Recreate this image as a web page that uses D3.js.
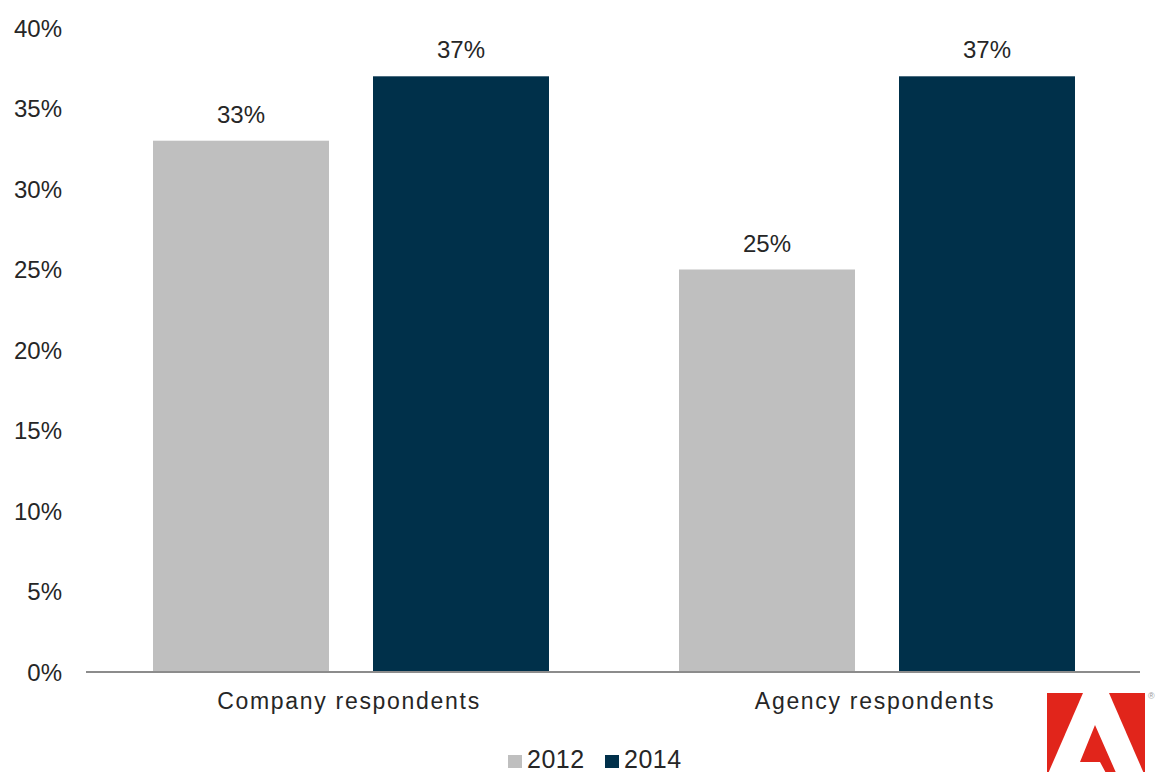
<!DOCTYPE html>
<html>
<head>
<meta charset="utf-8">
<script src="https://cdn.jsdelivr.net/npm/d3@7/dist/d3.min.js"></script>
<style>
  html, body { margin: 0; padding: 0; background: #fff; }
  svg { display: block; font-family: "Liberation Sans", Arial, sans-serif; }
</style>
</head>
<body>
<svg id="chart" width="1158" height="772"></svg>
<script>
// Share of respondents, by group and survey year
const categories = ["Company respondents", "Agency respondents"];
const seriesNames = ["2012", "2014"];
const values2012 = [33, 25];
const values2014 = [37, 37];
const yTicks = [0, 5, 10, 15, 20, 25, 30, 35, 40];
const seriesColors = ["#bfbfbf", "#00304a"];

const svg = d3.select("#chart");
const plotLeft = 88, plotRight = 1140, plotTop = 28, plotBottom = 672;

const x0 = d3.scaleBand().domain(categories).range([plotLeft, plotRight]).paddingInner(0).paddingOuter(0);
const x1 = d3.scaleBand().domain(seriesNames).range([0, x0.bandwidth()])
  .paddingInner(0.2).paddingOuter(0.2955);
const y = d3.scaleLinear().domain([0, 40]).range([plotBottom, plotTop]);
const color = d3.scaleOrdinal().domain(seriesNames).range(seriesColors);

const rows = categories.map((c, i) => ({
  category: c,
  items: [
    { series: "2012", value: values2012[i] },
    { series: "2014", value: values2014[i] }
  ]
}));

// Y axis labels (no axis line, no ticks)
const yAxis = d3.axisLeft(y).tickValues(yTicks).tickFormat(d => d + "%").tickSize(0).tickPadding(0);
const yg = svg.append("g").attr("transform", `translate(62,0)`).call(yAxis);
yg.select(".domain").remove();
yg.selectAll("text")
  .attr("font-size", 24)
  .attr("font-family", "Liberation Sans, Arial, sans-serif")
  .attr("fill", "#262626")
  .attr("dy", "0.35em");

// Bars
const groups = svg.append("g").selectAll("g").data(rows).join("g")
  .attr("transform", d => `translate(${x0(d.category)},0)`);

groups.selectAll("rect").data(d => d.items).join("rect")
  .attr("x", d => x1(d.series))
  .attr("width", x1.bandwidth())
  .attr("y", d => y(d.value))
  .attr("height", d => y(0) - y(d.value))
  .attr("fill", d => color(d.series));

// Value labels
groups.selectAll("text.val").data(d => d.items).join("text")
  .attr("class", "val")
  .attr("x", d => x1(d.series) + x1.bandwidth() / 2)
  .attr("y", d => y(d.value) - 18)
  .attr("text-anchor", "middle")
  .attr("font-size", 24)
  .attr("fill", "#262626")
  .text(d => d.value + "%");

// Baseline
svg.append("line")
  .attr("x1", 86).attr("x2", plotRight)
  .attr("y1", y(0)).attr("y2", y(0))
  .attr("stroke", "#8c8c8c").attr("stroke-width", 2);

// Category labels
svg.append("g").selectAll("text").data(categories).join("text")
  .attr("x", d => x0(d) + x0.bandwidth() / 2 - 2)
  .attr("y", 709)
  .attr("text-anchor", "middle")
  .attr("font-size", 23)
  .attr("letter-spacing", "1.7px")
  .attr("fill", "#262626")
  .text(d => d);

// Legend
const legend = svg.append("g");
const legendX = [508, 605];
seriesNames.forEach((s, i) => {
  legend.append("rect")
    .attr("x", legendX[i]).attr("y", 755)
    .attr("width", 14).attr("height", 13)
    .attr("fill", color(s));
  legend.append("text")
    .attr("x", legendX[i] + 19).attr("y", 768)
    .attr("font-size", 25)
    .attr("letter-spacing", "0.5px")
    .attr("fill", "#262626")
    .text(s);
});

// Adobe mark
const logo = svg.append("g").attr("fill", "#e1251b");
logo.append("polygon").attr("points", "1047,693 1083,693 1047,776");
logo.append("polygon").attr("points", "1109,693 1145,693 1145,776");
logo.append("polygon").attr("points", "1095,725 1117,775 1107,775 1100,762 1080,762");
svg.append("text")
  .attr("x", 1148).attr("y", 699)
  .attr("font-size", 9)
  .attr("fill", "#999")
  .text("®");
</script>
</body>
</html>
